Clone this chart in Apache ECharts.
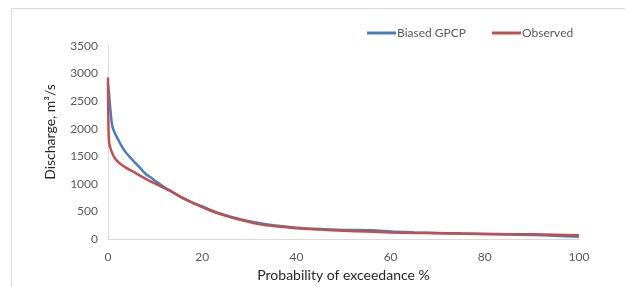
<!DOCTYPE html>
<html>
<head>
<meta charset="utf-8">
<script src="https://cdn.jsdelivr.net/npm/echarts@6/dist/echarts.min.js"></script>
<style>
  html, body { margin: 0; padding: 0; background: #fff; }
  #chart { width: 625px; height: 287px; }
</style>
</head>
<body>
<div id="chart"></div>
<script>
// probability of exceedance (%) and discharge values
const gpcpX = [0, 0.2, 0.5, 0.9, 1.4, 2, 2.8, 3.7, 4.7, 5.8, 7, 8, 9.5, 10.9, 12.3, 13.7, 15.5, 17.9, 20, 22.5, 25, 28, 32, 36, 40, 45, 50, 55, 57, 60, 65, 70, 75, 80, 85, 90, 95, 100];
const gpcpY = [2800, 2650, 2350, 2050, 1930, 1830, 1700, 1580, 1480, 1380, 1270, 1180, 1090, 1000, 920, 850, 760, 660, 590, 500, 430, 360, 290, 240, 205, 180, 165, 158, 155, 135, 120, 110, 100, 92, 82, 72, 60, 40];

const obsX = [0, 0.05, 0.2, 0.5, 0.9, 1.4, 2, 2.8, 3.7, 4.7, 5.8, 7, 8.7, 10.9, 12.3, 13.7, 15.5, 17.9, 20, 22.5, 25, 28, 32, 36, 40, 45, 50, 55, 60, 65, 70, 75, 80, 85, 90, 95, 100];
const obsY = [2930, 2300, 1780, 1650, 1560, 1470, 1410, 1350, 1300, 1250, 1200, 1140, 1060, 970, 910, 850, 760, 660, 580, 490, 420, 350, 270, 225, 195, 170, 150, 135, 118, 110, 104, 98, 92, 88, 84, 78, 70];

const xTicks = [0, 20, 40, 60, 80, 100];
const yTicks = [0, 500, 1000, 1500, 2000, 2500, 3000, 3500];

const pairs = (xs, ys) => xs.map((x, i) => [x, ys[i]]);

const chart = echarts.init(document.getElementById('chart'));
const font = 'Lato, "Open Sans", sans-serif';

chart.setOption({
  animation: false,
  backgroundColor: '#ffffff',
  textStyle: { fontFamily: font },
  grid: { left: 108, right: 46, top: 46, bottom: 47 },
  legend: {
    top: 22,
    left: 362,
    itemGap: 26,
    itemWidth: 29,
    itemHeight: 3,
    icon: 'rect',
    textStyle: { color: '#595959', fontSize: 12, fontFamily: font, padding: [0, 0, 0, -4] },
    data: ['Biased GPCP', 'Observed']
  },
  xAxis: {
    type: 'value',
    min: xTicks[0],
    max: xTicks[xTicks.length - 1],
    interval: 20,
    name: 'Probability of exceedance %',
    nameLocation: 'middle',
    nameGap: 29,
    nameTextStyle: { color: '#262626', fontSize: 14, fontFamily: font },
    axisLine: { lineStyle: { color: '#d9d9d9' } },
    axisTick: { show: false },
    splitLine: { show: false },
    axisLabel: { color: '#595959', fontSize: 12, margin: 12 }
  },
  yAxis: {
    type: 'value',
    min: yTicks[0],
    max: yTicks[yTicks.length - 1],
    interval: 500,
    axisLine: { show: true, lineStyle: { color: '#d9d9d9' } },
    axisTick: { show: false },
    splitLine: { show: false },
    axisLabel: { color: '#595959', fontSize: 12, margin: 10, formatter: v => String(v) }
  },
  graphic: [
    {
      type: 'rect',
      shape: { x: 11.5, y: 8.5, width: 700, height: 400 },
      style: { fill: 'none', stroke: '#d9d9d9', lineWidth: 1 },
      silent: true
    },
    {
      type: 'text',
      x: 50,
      y: 132,
      rotation: Math.PI / 2,
      style: {
        text: 'Discharge, m³/s',
        fill: '#262626',
        font: '14px ' + font,
        align: 'center',
        verticalAlign: 'middle'
      }
    }
  ],
  series: [
    {
      name: 'Biased GPCP',
      type: 'line',
      data: pairs(gpcpX, gpcpY),
      showSymbol: false,
      smooth: 0.3,
      color: '#4a7cc2',
      lineStyle: { width: 2.5, color: '#4a7cc2' }
    },
    {
      name: 'Observed',
      type: 'line',
      data: pairs(obsX, obsY),
      showSymbol: false,
      smooth: 0.3,
      color: '#c0504d',
      lineStyle: { width: 2.5, color: '#c0504d' }
    }
  ]
});
</script>
</body>
</html>
